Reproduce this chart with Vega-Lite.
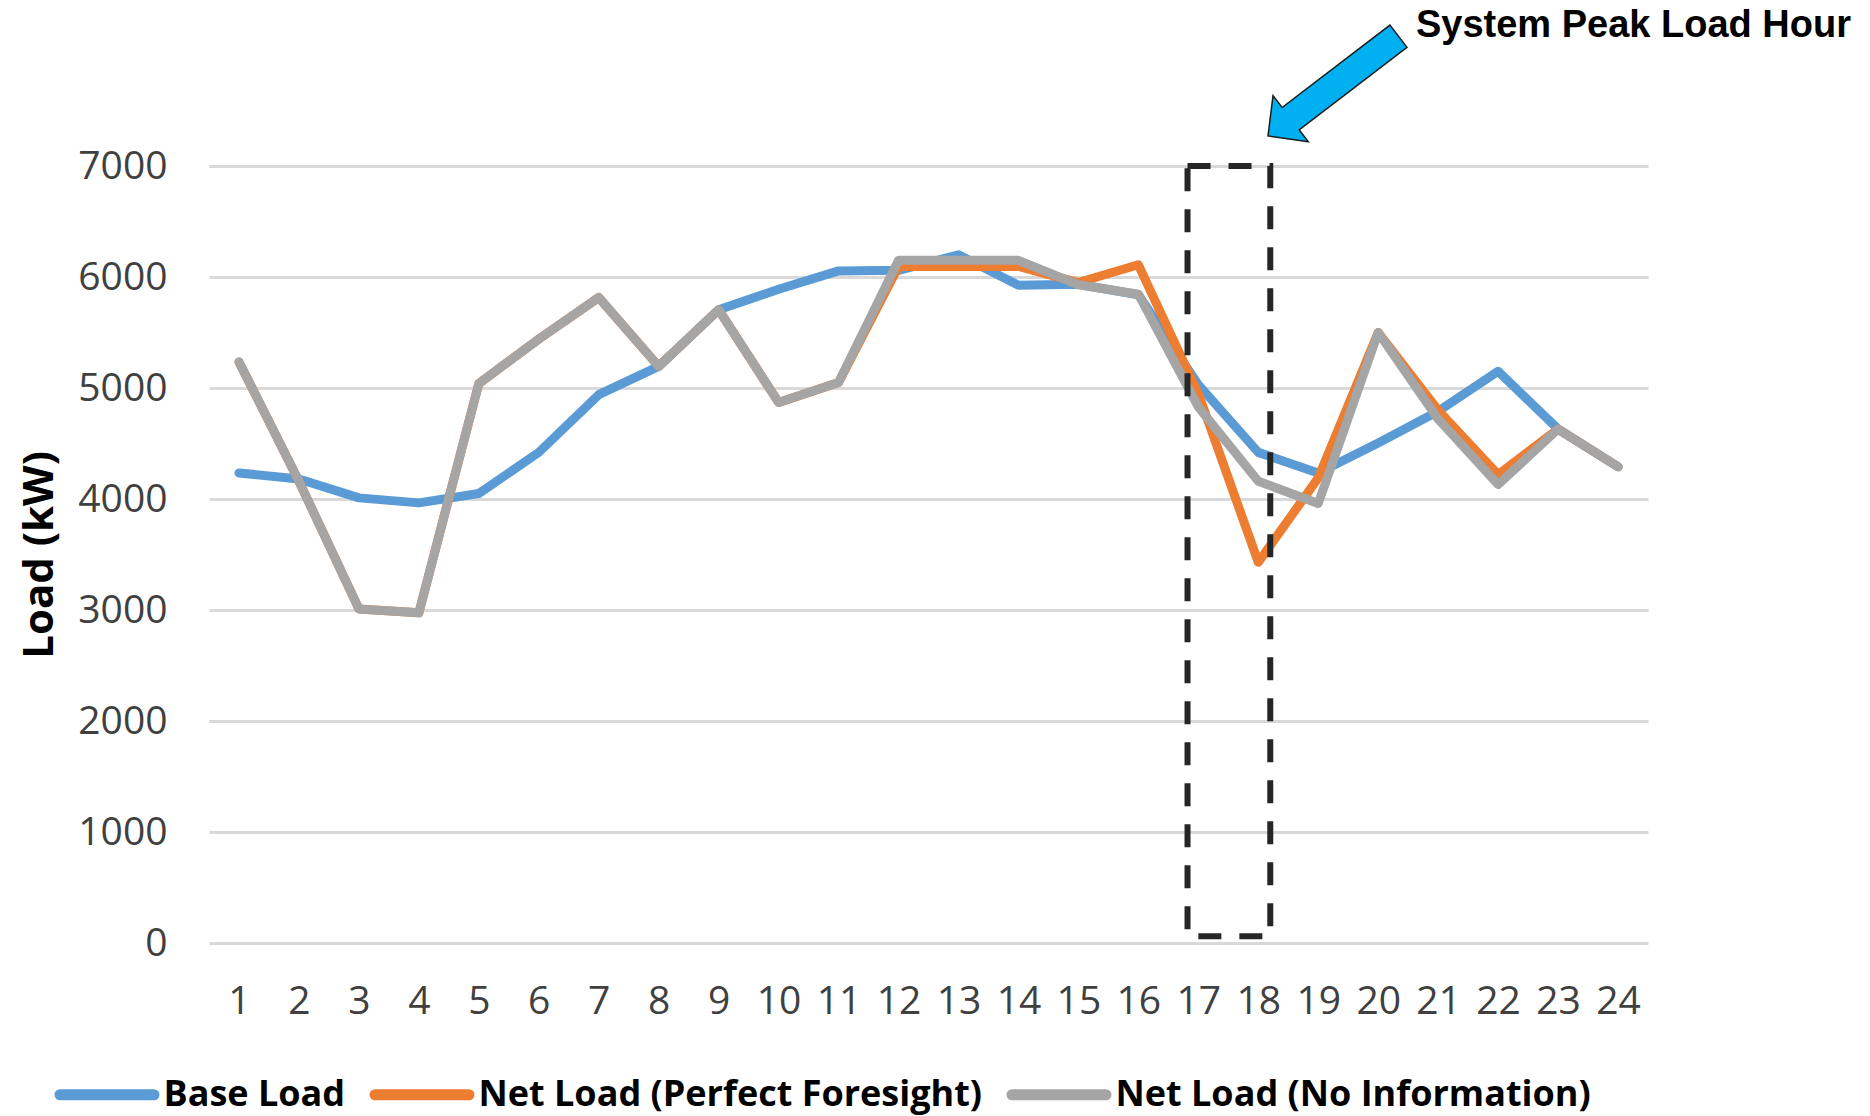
{
  "$schema": "https://vega.github.io/schema/vega-lite/v6.json",
  "width": 1439,
  "height": 777,
  "autosize": {"type": "none"},
  "padding": {"left": 209, "top": 166, "right": 222, "bottom": 173},
  "background": "white",
  "config": {"view": {"stroke": null}, "font": "Open Sans"},
  "title": {
    "text": "System Peak Load Hour",
    "anchor": "end",
    "frame": "group",
    "font": "Liberation Sans",
    "fontSize": 38,
    "fontWeight": "bold",
    "color": "#000000",
    "baseline": "alphabetic",
    "offset": 0,
    "dx": 203,
    "dy": 53
  },
  "layer": [
    {
      "data": {
        "values": [
          {"hour": 1, "series": "Base Load", "load": 4235},
          {"hour": 2, "series": "Base Load", "load": 4180},
          {"hour": 3, "series": "Base Load", "load": 4010},
          {"hour": 4, "series": "Base Load", "load": 3965},
          {"hour": 5, "series": "Base Load", "load": 4050},
          {"hour": 6, "series": "Base Load", "load": 4420},
          {"hour": 7, "series": "Base Load", "load": 4940},
          {"hour": 8, "series": "Base Load", "load": 5195},
          {"hour": 9, "series": "Base Load", "load": 5705},
          {"hour": 10, "series": "Base Load", "load": 5890},
          {"hour": 11, "series": "Base Load", "load": 6055},
          {"hour": 12, "series": "Base Load", "load": 6060},
          {"hour": 13, "series": "Base Load", "load": 6200},
          {"hour": 14, "series": "Base Load", "load": 5925},
          {"hour": 15, "series": "Base Load", "load": 5935},
          {"hour": 16, "series": "Base Load", "load": 5840},
          {"hour": 17, "series": "Base Load", "load": 5030},
          {"hour": 18, "series": "Base Load", "load": 4420},
          {"hour": 19, "series": "Base Load", "load": 4235},
          {"hour": 20, "series": "Base Load", "load": 4505},
          {"hour": 21, "series": "Base Load", "load": 4790},
          {"hour": 22, "series": "Base Load", "load": 5150},
          {"hour": 23, "series": "Base Load", "load": 4630},
          {"hour": 24, "series": "Base Load", "load": 4290},
          {"hour": 1, "series": "Net Load (Perfect Foresight)", "load": 5235},
          {"hour": 2, "series": "Net Load (Perfect Foresight)", "load": 4160},
          {"hour": 3, "series": "Net Load (Perfect Foresight)", "load": 3010},
          {"hour": 4, "series": "Net Load (Perfect Foresight)", "load": 2975},
          {"hour": 5, "series": "Net Load (Perfect Foresight)", "load": 5040},
          {"hour": 6, "series": "Net Load (Perfect Foresight)", "load": 5440},
          {"hour": 7, "series": "Net Load (Perfect Foresight)", "load": 5815},
          {"hour": 8, "series": "Net Load (Perfect Foresight)", "load": 5195},
          {"hour": 9, "series": "Net Load (Perfect Foresight)", "load": 5705},
          {"hour": 10, "series": "Net Load (Perfect Foresight)", "load": 4870},
          {"hour": 11, "series": "Net Load (Perfect Foresight)", "load": 5050},
          {"hour": 12, "series": "Net Load (Perfect Foresight)", "load": 6095},
          {"hour": 13, "series": "Net Load (Perfect Foresight)", "load": 6095},
          {"hour": 14, "series": "Net Load (Perfect Foresight)", "load": 6095},
          {"hour": 15, "series": "Net Load (Perfect Foresight)", "load": 5950},
          {"hour": 16, "series": "Net Load (Perfect Foresight)", "load": 6110},
          {"hour": 17, "series": "Net Load (Perfect Foresight)", "load": 4950},
          {"hour": 18, "series": "Net Load (Perfect Foresight)", "load": 3430},
          {"hour": 19, "series": "Net Load (Perfect Foresight)", "load": 4190},
          {"hour": 20, "series": "Net Load (Perfect Foresight)", "load": 5500},
          {"hour": 21, "series": "Net Load (Perfect Foresight)", "load": 4800},
          {"hour": 22, "series": "Net Load (Perfect Foresight)", "load": 4220},
          {"hour": 23, "series": "Net Load (Perfect Foresight)", "load": 4630},
          {"hour": 24, "series": "Net Load (Perfect Foresight)", "load": 4290},
          {"hour": 1, "series": "Net Load (No Information)", "load": 5235},
          {"hour": 2, "series": "Net Load (No Information)", "load": 4160},
          {"hour": 3, "series": "Net Load (No Information)", "load": 3010},
          {"hour": 4, "series": "Net Load (No Information)", "load": 2975},
          {"hour": 5, "series": "Net Load (No Information)", "load": 5040},
          {"hour": 6, "series": "Net Load (No Information)", "load": 5440},
          {"hour": 7, "series": "Net Load (No Information)", "load": 5815},
          {"hour": 8, "series": "Net Load (No Information)", "load": 5195},
          {"hour": 9, "series": "Net Load (No Information)", "load": 5705},
          {"hour": 10, "series": "Net Load (No Information)", "load": 4870},
          {"hour": 11, "series": "Net Load (No Information)", "load": 5050},
          {"hour": 12, "series": "Net Load (No Information)", "load": 6150},
          {"hour": 13, "series": "Net Load (No Information)", "load": 6150},
          {"hour": 14, "series": "Net Load (No Information)", "load": 6150},
          {"hour": 15, "series": "Net Load (No Information)", "load": 5930},
          {"hour": 16, "series": "Net Load (No Information)", "load": 5845},
          {"hour": 17, "series": "Net Load (No Information)", "load": 4830},
          {"hour": 18, "series": "Net Load (No Information)", "load": 4160},
          {"hour": 19, "series": "Net Load (No Information)", "load": 3960},
          {"hour": 20, "series": "Net Load (No Information)", "load": 5500},
          {"hour": 21, "series": "Net Load (No Information)", "load": 4720},
          {"hour": 22, "series": "Net Load (No Information)", "load": 4130},
          {"hour": 23, "series": "Net Load (No Information)", "load": 4630},
          {"hour": 24, "series": "Net Load (No Information)", "load": 4290}
        ]
      },
      "mark": {"type": "line", "strokeWidth": 9, "strokeJoin": "round", "strokeCap": "round"},
      "encoding": {
        "x": {
          "field": "hour",
          "type": "quantitative",
          "scale": {"domain": [0.5, 24.5], "nice": false, "zero": false},
          "axis": {
            "values": [1, 2, 3, 4, 5, 6, 7, 8, 9, 10, 11, 12, 13, 14, 15, 16, 17, 18, 19, 20, 21, 22, 23, 24],
            "title": null,
            "grid": false,
            "domain": false,
            "ticks": false,
            "labelFont": "Open Sans",
            "labelFontSize": 39,
            "labelColor": "#404040",
            "labelPadding": 39,
            "labelFlush": false,
            "labelOverlap": false,
            "format": "d"
          }
        },
        "y": {
          "field": "load",
          "type": "quantitative",
          "scale": {"domain": [0, 7000], "nice": false},
          "axis": {
            "values": [0, 1000, 2000, 3000, 4000, 5000, 6000, 7000],
            "title": "Load (kW)",
            "titleFont": "Open Sans",
            "titleFontSize": 42,
            "titleFontWeight": "bold",
            "titleColor": "#000000",
            "titlePadding": 16,
            "grid": true,
            "gridColor": "#D9D9D9",
            "gridWidth": 3,
            "domain": false,
            "ticks": false,
            "labelFont": "Open Sans",
            "labelFontSize": 39,
            "labelColor": "#404040",
            "labelPadding": 42,
            "format": "d"
          }
        },
        "color": {
          "field": "series",
          "type": "nominal",
          "scale": {
            "domain": ["Base Load", "Net Load (Perfect Foresight)", "Net Load (No Information)"],
            "range": ["#5B9BD5", "#ED7D31", "#A5A5A5"]
          },
          "legend": {
            "title": null,
            "orient": "none",
            "legendX": -154.5,
            "legendY": 876,
            "direction": "horizontal",
            "symbolType": "stroke",
            "symbolSize": 8836,
            "symbolStrokeWidth": 11,
            "labelFont": "Open Sans",
            "labelFontSize": 36,
            "labelFontWeight": "bold",
            "labelColor": "#000000",
            "labelLimit": 1000,
            "labelOffset": 4,
            "columnPadding": 7,
            "padding": 0,
            "encode": {"symbols": {"update": {"strokeCap": {"value": "round"}}}}
          }
        }
      }
    },
    {
      "data": {"values": [{"annotation": "peak hour box"}]},
      "mark": {"type": "rect", "filled": false, "stroke": "#262626", "strokeWidth": 6, "strokeDash": [23, 18]},
      "encoding": {
        "x": {"datum": 16.82},
        "x2": {"datum": 18.2},
        "y": {"datum": 60},
        "y2": {"datum": 7000}
      }
    },
    {
      "data": {"values": [{"annotation": "peak hour arrow"}]},
      "mark": {
        "type": "point",
        "shape": "M1,0L0.653,0.353L0.653,0.171L-1,0.171L-1,-0.171L0.653,-0.171L0.653,-0.353Z",
        "size": 26962,
        "angle": 142.6,
        "filled": true,
        "fill": "#00B0F0",
        "stroke": "#1A1A1A",
        "strokeWidth": 1.5,
        "opacity": 1
      },
      "encoding": {
        "x": {"datum": 19.25},
        "y": {"datum": 7720}
      }
    }
  ]
}
